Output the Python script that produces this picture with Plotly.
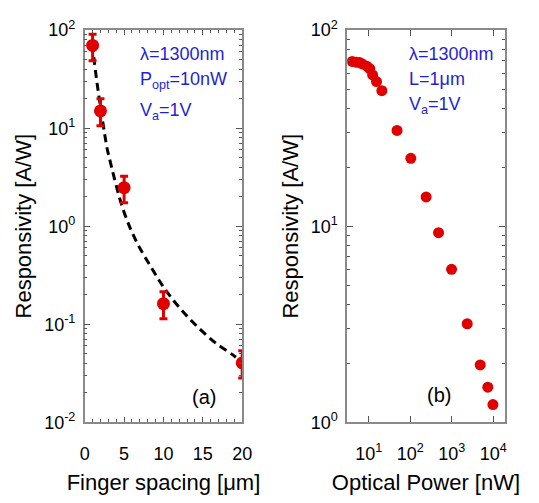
import plotly.graph_objects as go

# ---- Panel (a): responsivity vs finger spacing ----
spacing_um = [1, 2, 5, 10, 20]
resp_a = [69.8, 15.0, 2.47, 0.162, 0.0403]
err_plus_a = [21.0, 5.0, 0.77, 0.053, 0.0133]
err_minus_a = [21.1, 4.4, 0.73, 0.048, 0.012]

fit_x = [1.0, 1.17, 1.58, 2.82, 3.1, 4.89, 6.55, 8.41, 10.06, 11.93, 14.21, 16.70, 18.76, 19.2]
fit_y = [72.0, 51.8, 28.4, 6.35, 5.07, 1.47, 0.70, 0.384, 0.236, 0.151, 0.096, 0.0636, 0.049, 0.046]

# ---- Panel (b): responsivity vs optical power ----
power_nw = [4, 5, 6, 7, 9, 10.6, 12.4, 15.4, 20.7, 48, 103, 241, 480, 986, 2350, 4830, 7340, 9770]
resp_b = [69.3, 68.7, 68.5, 67.3, 65.5, 63.6, 59.1, 54.7, 49.1, 30.8, 22.2, 14.1, 9.27, 6.03, 3.18, 1.96, 1.51, 1.23]

yticks_a = [0.01, 0.1, 1, 10, 100]
yticktext_a = ["10<sup>-2</sup>", "10<sup>-1</sup>", "10<sup>0</sup>", "10<sup>1</sup>", "10<sup>2</sup>"]
yticks_b = [1, 10, 100]
yticktext_b = ["10<sup>0</sup>", "10<sup>1</sup>", "10<sup>2</sup>"]
xticks_b = [10, 100, 1000, 10000]
xticktext_b = ["10<sup>1</sup>", "10<sup>2</sup>", "10<sup>3</sup>", "10<sup>4</sup>"]

RED = "#e00000"
BLUE = "#1f1fd6"
FRAME = "#8a8a8a"
FONT = "Arial, Liberation Sans, sans-serif"

def minor_log(lo, hi):
    vals = []
    for d in range(lo, hi):
        for m in range(2, 10):
            vals.append(m * 10 ** d)
    return vals

fig = go.Figure()

fig.add_trace(go.Scatter(
    x=fit_x, y=fit_y, mode="lines", line=dict(color="black", width=3, dash="8px,5px", shape="spline"),
    xaxis="x", yaxis="y", showlegend=False, hoverinfo="skip"))
fig.add_trace(go.Scatter(
    x=spacing_um, y=resp_a, mode="markers",
    marker=dict(color=RED, size=13),
    error_y=dict(type="data", array=err_plus_a, arrayminus=err_minus_a, color=RED, thickness=3, width=4),
    xaxis="x", yaxis="y", showlegend=False))
fig.add_trace(go.Scatter(
    x=power_nw, y=resp_b, mode="markers",
    marker=dict(color=RED, size=11),
    xaxis="x2", yaxis="y2", showlegend=False))

W, H = 539, 503
def px(x):
    return x / W
def py(y):
    return 1 - y / H

axis_common = dict(
    showline=True, linecolor=FRAME, linewidth=1.5, mirror="ticks",
    ticks="inside", tickcolor="#555", tickwidth=1.2, showgrid=False, zeroline=False,
    tickfont=dict(family=FONT, size=18, color="black"),
)

fig.update_layout(
    width=W, height=H,
    margin=dict(l=0, r=0, t=0, b=0),
    paper_bgcolor="white", plot_bgcolor="white",
    font=dict(family=FONT, color="black"),
    xaxis=dict(
        domain=[px(82), px(244)], range=[0, 20], anchor="y",
        tickvals=[0, 5, 10, 15, 20], ticklen=5,
        minor=dict(tickvals=[v for v in range(1, 20) if v % 5 != 0], ticks="inside", ticklen=3, tickcolor="#555"),
        title=dict(text="Finger spacing [\u03bcm]", font=dict(family=FONT, size=22), standoff=12),
        ticklabelstandoff=14,
        **axis_common),
    yaxis=dict(
        domain=[py(429), py(19)], type="log", range=[-2, 2], anchor="x",
        tickvals=yticks_a, ticktext=yticktext_a, ticklen=6,
        minor=dict(tickvals=minor_log(-2, 2), ticks="inside", ticklen=3, tickcolor="#555"),
        title=dict(text="Responsivity [A/W]", font=dict(family=FONT, size=22), standoff=6),
        ticklabelstandoff=4,
        **axis_common),
    xaxis2=dict(
        domain=[px(352), px(514)], type="log", range=[0.482, 4.273], anchor="y2",
        tickvals=xticks_b, ticktext=xticktext_b, ticklen=6,
        title=dict(text="Optical Power [nW]", font=dict(family=FONT, size=22), standoff=12),
        ticklabelstandoff=14,
        **axis_common),
    yaxis2=dict(
        domain=[py(429), py(19)], type="log", range=[0, 2], anchor="x2",
        tickvals=yticks_b, ticktext=yticktext_b, ticklen=6,
        minor=dict(tickvals=minor_log(0, 2), ticks="inside", ticklen=3, tickcolor="#555"),
        title=dict(text="Responsivity [A/W]", font=dict(family=FONT, size=22), standoff=6),
        ticklabelstandoff=4,
        **axis_common),
)

def note(text, x, y, color=BLUE, size=18):
    fig.add_annotation(text=text, x=px(x), y=py(y), xref="paper", yref="paper",
                       xanchor="left", yanchor="middle", showarrow=False, borderpad=0,
                       font=dict(family=FONT, size=size, color=color))

note("\u03bb=1300nm", 138, 44)
note("P<sub>opt</sub>=10nW", 138, 72)
note("V<sub>a</sub>=1V", 138, 104)
note("\u03bb=1300nm", 415, 44)
note("L=1\u03bcm", 415, 70)
note("V<sub>a</sub>=1V", 415, 98)
note("(a)", 191, 403, color="black", size=20)
note("(b)", 433, 401, color="black", size=20)

fig.write_html("out.html")
